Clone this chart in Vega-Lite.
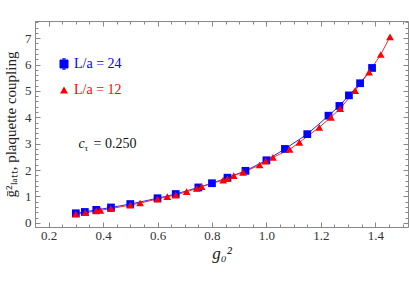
{
  "$schema": "https://vega.github.io/schema/vega-lite/v6.json",
  "width": 373,
  "height": 206,
  "autosize": {"type": "none"},
  "padding": {"left": 35, "top": 21, "right": 1, "bottom": 57},
  "background": "white",
  "config": {
    "view": {"stroke": "#888888", "strokeWidth": 1},
    "font": "Liberation Serif",
    "axis": {"grid": false, "domain": false, "tickColor": "#888888", "labelFont": "Liberation Serif", "labelFontSize": 13, "labelColor": "#333333", "titleFont": "Liberation Serif", "titleColor": "#222222", "titleFontWeight": "normal"},
    "legend": {"orient": "none", "padding": 0, "symbolSize": 64, "labelFont": "Liberation Serif", "labelFontSize": 14, "labelOffset": 3, "rowPadding": 12}
  },
  "datasets": {
    "pts": [
      {"L": "24", "g0": 0.300, "g": 0.36},
      {"L": "24", "g0": 0.333, "g": 0.41},
      {"L": "24", "g0": 0.375, "g": 0.49},
      {"L": "24", "g0": 0.429, "g": 0.58},
      {"L": "24", "g0": 0.500, "g": 0.71},
      {"L": "24", "g0": 0.600, "g": 0.93},
      {"L": "24", "g0": 0.667, "g": 1.09},
      {"L": "24", "g0": 0.750, "g": 1.34},
      {"L": "24", "g0": 0.800, "g": 1.50},
      {"L": "24", "g0": 0.857, "g": 1.71},
      {"L": "24", "g0": 0.923, "g": 1.97},
      {"L": "24", "g0": 1.000, "g": 2.37},
      {"L": "24", "g0": 1.068, "g": 2.80},
      {"L": "24", "g0": 1.150, "g": 3.36},
      {"L": "24", "g0": 1.228, "g": 4.06},
      {"L": "24", "g0": 1.268, "g": 4.43},
      {"L": "24", "g0": 1.303, "g": 4.83},
      {"L": "24", "g0": 1.344, "g": 5.29},
      {"L": "24", "g0": 1.388, "g": 5.87},
      {"L": "12", "g0": 0.300, "g": 0.33},
      {"L": "12", "g0": 0.335, "g": 0.38},
      {"L": "12", "g0": 0.375, "g": 0.45},
      {"L": "12", "g0": 0.390, "g": 0.47},
      {"L": "12", "g0": 0.429, "g": 0.54},
      {"L": "12", "g0": 0.500, "g": 0.67},
      {"L": "12", "g0": 0.536, "g": 0.75},
      {"L": "12", "g0": 0.600, "g": 0.90},
      {"L": "12", "g0": 0.636, "g": 0.99},
      {"L": "12", "g0": 0.667, "g": 1.05},
      {"L": "12", "g0": 0.707, "g": 1.18},
      {"L": "12", "g0": 0.744, "g": 1.30},
      {"L": "12", "g0": 0.762, "g": 1.37},
      {"L": "12", "g0": 0.841, "g": 1.62},
      {"L": "12", "g0": 0.857, "g": 1.67},
      {"L": "12", "g0": 0.880, "g": 1.79},
      {"L": "12", "g0": 0.914, "g": 1.91},
      {"L": "12", "g0": 0.975, "g": 2.19},
      {"L": "12", "g0": 0.997, "g": 2.34},
      {"L": "12", "g0": 1.024, "g": 2.48},
      {"L": "12", "g0": 1.085, "g": 2.78},
      {"L": "12", "g0": 1.121, "g": 3.05},
      {"L": "12", "g0": 1.194, "g": 3.62},
      {"L": "12", "g0": 1.237, "g": 4.00},
      {"L": "12", "g0": 1.271, "g": 4.33},
      {"L": "12", "g0": 1.326, "g": 5.01},
      {"L": "12", "g0": 1.377, "g": 5.71},
      {"L": "12", "g0": 1.420, "g": 6.38},
      {"L": "12", "g0": 1.454, "g": 7.05}
    ],
    "note": [{"c": "c", "tau": "τ", "rest": "= 0.250"}]
  },
  "resolve": {"axis": {"x": "independent", "y": "independent"}},
  "layer": [
    {
      "data": {"name": "pts"},
      "transform": [{"filter": "datum.L === '24'"}],
      "mark": {"type": "line", "strokeWidth": 1, "color": "#2a2aff"},
      "encoding": {
        "x": {"field": "g0", "type": "quantitative", "scale": {"domain": [0.15, 1.52], "nice": false, "zero": false},
              "axis": {"orient": "bottom", "values": [0.2, 0.4, 0.6, 0.8, 1.0, 1.2, 1.4], "format": ".1f", "tickSize": -5, "labelPadding": 7, "title": "g₀²", "titleFontSize": 17, "titleFontStyle": "italic", "titlePadding": 3}},
        "y": {"field": "g", "type": "quantitative", "scale": {"domain": [-0.16, 7.65], "nice": false, "zero": false},
              "axis": {"orient": "left", "values": [0, 1, 2, 3, 4, 5, 6, 7], "tickSize": -5, "labelPadding": 9, "title": "ḡ²ₗₐₜₜ, plaquette coupling", "titleFontSize": 15, "titlePadding": 6}}
      }
    },
    {
      "data": {"name": "pts"},
      "transform": [{"filter": "datum.L === '12'"}],
      "mark": {"type": "line", "strokeWidth": 1, "color": "#ff2a2a"},
      "encoding": {
        "x": {"field": "g0", "type": "quantitative", "axis": null},
        "y": {"field": "g", "type": "quantitative", "axis": null}
      }
    },
    {
      "data": {"name": "pts"},
      "mark": {"type": "point", "filled": true, "opacity": 1, "size": 60},
      "encoding": {
        "x": {"field": "g0", "type": "quantitative",
              "axis": {"orient": "bottom", "values": [0.15, 0.25, 0.3, 0.35, 0.45, 0.5, 0.55, 0.65, 0.7, 0.75, 0.85, 0.9, 0.95, 1.05, 1.1, 1.15, 1.25, 1.3, 1.35, 1.45, 1.5], "tickSize": -3, "labels": false, "title": null}},
        "y": {"field": "g", "type": "quantitative",
              "axis": {"orient": "left", "values": [0.2, 0.4, 0.6, 0.8, 1.2, 1.4, 1.6, 1.8, 2.2, 2.4, 2.6, 2.8, 3.2, 3.4, 3.6, 3.8, 4.2, 4.4, 4.6, 4.8, 5.2, 5.4, 5.6, 5.8, 6.2, 6.4, 6.6, 6.8, 7.2, 7.4, 7.6], "tickSize": -3, "labels": false, "title": null}},
        "color": {"field": "L", "type": "nominal", "scale": {"domain": ["24", "12"], "range": ["#0000ff", "#ff0000"]},
                  "legend": {"title": null, "values": ["24"], "legendX": 22, "legendY": 36, "labelExpr": "'L/a = ' + datum.label", "labelColor": "#0000ff",
                             "symbolType": "M-1,-1H1V1H-1Z M0,-1.3V1.3 M-0.45,-1.3H0.45 M-0.45,1.3H0.45", "symbolStrokeColor": "#0000ff", "symbolStrokeWidth": 1}},
        "shape": {"field": "L", "type": "nominal", "scale": {"domain": ["12", "24"], "range": ["triangle-up", "square"]},
                  "legend": {"title": null, "values": ["12"], "legendX": 22, "legendY": 62, "labelExpr": "'L/a = ' + datum.label", "labelColor": "#ff0000",
                             "symbolFillColor": "#ff0000", "symbolStrokeColor": "#ff0000", "symbolStrokeWidth": 0}}
      }
    },
    {
      "data": {"name": "pts"},
      "mark": {"type": "point", "opacity": 0},
      "encoding": {
        "x": {"field": "g0", "type": "quantitative", "axis": {"orient": "top", "values": [0.2, 0.4, 0.6, 0.8, 1.0, 1.2, 1.4], "tickSize": -5, "labels": false, "title": null}},
        "y": {"field": "g", "type": "quantitative", "axis": {"orient": "right", "values": [0, 1, 2, 3, 4, 5, 6, 7], "tickSize": -5, "labels": false, "title": null}}
      }
    },
    {
      "data": {"name": "pts"},
      "mark": {"type": "point", "opacity": 0},
      "encoding": {
        "x": {"field": "g0", "type": "quantitative", "axis": {"orient": "top", "values": [0.15, 0.25, 0.3, 0.35, 0.45, 0.5, 0.55, 0.65, 0.7, 0.75, 0.85, 0.9, 0.95, 1.05, 1.1, 1.15, 1.25, 1.3, 1.35, 1.45, 1.5], "tickSize": -3, "labels": false, "title": null}},
        "y": {"field": "g", "type": "quantitative", "axis": {"orient": "right", "values": [0.2, 0.4, 0.6, 0.8, 1.2, 1.4, 1.6, 1.8, 2.2, 2.4, 2.6, 2.8, 3.2, 3.4, 3.6, 3.8, 4.2, 4.4, 4.6, 4.8, 5.2, 5.4, 5.6, 5.8, 6.2, 6.4, 6.6, 6.8, 7.2, 7.4, 7.6], "tickSize": -3, "labels": false, "title": null}}
      }
    },
    {
      "data": {"name": "note"},
      "mark": {"type": "text", "font": "Liberation Serif", "fontSize": 14, "fontStyle": "italic", "align": "left", "baseline": "middle", "color": "#111111"},
      "encoding": {"text": {"field": "c"}, "x": {"datum": 0.31, "type": "quantitative", "axis": null}, "y": {"datum": 3.0, "type": "quantitative", "axis": null}}
    },
    {
      "data": {"name": "note"},
      "mark": {"type": "text", "font": "Liberation Serif", "fontSize": 9, "align": "left", "baseline": "middle", "dx": 6, "dy": 4, "color": "#111111"},
      "encoding": {"text": {"field": "tau"}, "x": {"datum": 0.31, "type": "quantitative", "axis": null}, "y": {"datum": 3.0, "type": "quantitative", "axis": null}}
    },
    {
      "data": {"name": "note"},
      "mark": {"type": "text", "font": "Liberation Serif", "fontSize": 14, "align": "left", "baseline": "middle", "dx": 15, "color": "#111111"},
      "encoding": {"text": {"field": "rest"}, "x": {"datum": 0.31, "type": "quantitative", "axis": null}, "y": {"datum": 3.0, "type": "quantitative", "axis": null}}
    }
  ]
}
